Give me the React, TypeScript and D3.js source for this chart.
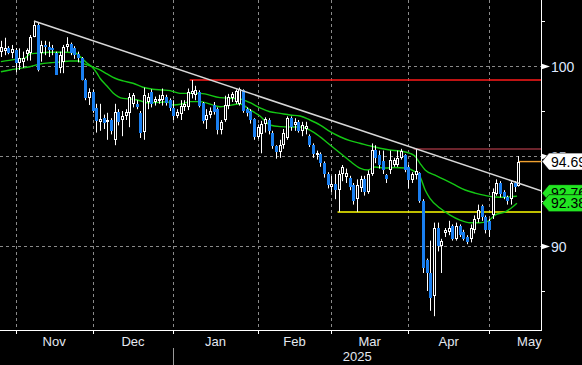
import React from "react";
import * as d3 from "d3";

const W = 582;
const H = 365;
const PLOT_RIGHT = 541;
const PLOT_BOTTOM = 330;

const START_DATE = new Date(2024, 9, 28);

const opens = [
  100.76, 100.85, 101.0, 100.7, 100.89, 100.15, 100.25, 100.65, 100.7, 101.63,
  102.28, 100.7, 101.17, 101.07, 100.98, 100.7, 99.87, 100.24, 101.07, 101.22,
  100.98, 100.65, 100.43, 99.22, 98.2, 98.57, 97.65, 96.9, 97.1, 96.9,
  97.0, 95.9, 97.46, 97.0, 97.2, 97.4, 97.9, 97.9, 97.4, 96.35,
  98.0, 98.55, 98.0, 98.05, 98.1, 98.3, 98.1, 97.65, 97.2, 97.35,
  97.7, 97.7, 98.45, 98.4, 98.55, 97.95, 97.0, 97.3, 97.85, 97.6,
  96.45, 97.0, 97.8, 98.2, 98.0, 97.9, 98.65, 97.6, 97.5, 97.05,
  96.05, 96.2, 96.8, 97.0, 96.3, 95.55, 95.2, 95.6, 96.0, 97.1,
  96.75, 96.9, 96.4, 96.5, 96.1, 95.6, 95.05, 95.1, 94.6, 94.0,
  93.3, 93.45, 93.1, 94.0, 93.85, 93.8, 93.4, 92.6, 93.2, 93.7,
  93.0, 94.0, 95.35, 95.05, 94.7, 93.95, 94.2, 94.5, 94.5, 94.9,
  95.05, 94.4, 93.65, 93.95, 94.05, 92.5, 89.2, 88.5, 87.2, 91.0,
  90.0, 90.7, 90.8, 91.1, 90.4, 91.1, 90.8, 90.5, 90.4, 90.9,
  91.5, 92.2, 91.6, 91.4, 91.7, 92.9, 93.5, 93.0, 92.7, 92.6,
  93.5, 93.35,
];
const highs = [
  101.4, 101.57, 101.1, 101.17, 101.0, 100.98, 100.8, 100.98, 101.72, 102.5,
  102.4, 101.4, 101.4, 101.35, 101.17, 100.8, 100.8, 101.17, 101.6, 101.3,
  101.1, 100.8, 100.5, 99.3, 98.76, 98.7, 97.9, 97.9, 97.3, 97.4,
  97.1, 97.9, 97.6, 97.5, 97.6, 98.5, 98.5, 98.1, 97.5, 98.8,
  98.5, 98.7, 98.3, 98.4, 98.75, 98.4, 98.2, 98.1, 97.6, 98.1,
  98.1, 98.75, 99.22, 98.9, 98.65, 98.0, 97.6, 97.7, 98.0, 97.7,
  97.0, 98.35, 98.45, 98.55, 98.7, 98.8, 98.7, 97.7, 97.6, 97.1,
  96.75, 96.95, 97.15, 97.1, 96.4, 95.6, 95.9, 96.5, 97.2, 97.2,
  97.1, 97.0, 96.9, 96.9, 96.2, 95.7, 95.3, 95.2, 94.7, 94.1,
  93.9, 94.0, 94.2, 94.5, 94.3, 93.9, 93.5, 93.7, 93.9, 93.9,
  94.2, 95.7, 95.6, 95.3, 95.3, 94.0, 95.3, 94.9, 95.3, 95.4,
  95.1, 94.5, 94.1, 95.39, 94.1, 92.6, 89.3, 90.3, 91.3, 91.3,
  90.4, 91.0, 91.4, 91.2, 91.3, 91.2, 90.9, 90.6, 91.2, 91.7,
  92.3, 92.3, 91.7, 91.5, 93.2, 93.7, 93.6, 93.1, 92.8, 93.6,
  93.6, 95.0,
];
const lows = [
  100.5, 100.6, 100.65, 100.43, 99.65, 99.78, 99.9, 100.3, 100.3, 101.6,
  99.7, 100.24, 100.6, 100.5, 100.6, 99.5, 99.6, 99.6, 100.8, 100.6,
  100.4, 100.2, 99.2, 98.1, 97.83, 97.4, 96.3, 96.4, 96.5, 95.9,
  96.2, 95.6, 96.7, 96.1, 97.0, 96.6, 97.7, 97.6, 96.0, 95.9,
  97.6, 97.7, 97.8, 97.9, 97.8, 97.8, 97.5, 97.0, 97.1, 97.0,
  97.5, 97.55, 98.2, 98.1, 97.7, 96.8, 96.5, 97.1, 97.3, 96.2,
  96.2, 96.9, 97.6, 98.0, 97.9, 97.8, 97.4, 97.2, 96.8, 95.9,
  95.95, 95.15, 96.3, 96.2, 95.4, 94.85, 94.9, 95.4, 95.9, 96.4,
  96.4, 96.3, 96.1, 96.2, 95.5, 94.9, 94.8, 94.4, 93.8, 93.2,
  93.0, 92.6, 91.9, 93.6, 93.5, 93.1, 92.3, 91.9, 93.0, 92.8,
  92.9, 93.9, 94.6, 94.3, 94.0, 93.5, 94.0, 94.4, 94.4, 94.8,
  94.1, 93.2, 93.5, 93.7, 92.4, 88.5, 87.5, 86.4, 86.1, 89.7,
  88.5, 90.5, 90.6, 90.3, 90.3, 90.5, 90.3, 90.1, 90.2, 90.7,
  91.3, 91.4, 90.7, 90.5, 91.5, 92.8, 92.7, 92.6, 92.3, 92.3,
  93.0, 93.3,
];
const closes = [
  101.07, 100.98, 100.7, 100.93, 100.15, 100.43, 100.43, 100.89, 101.63, 102.28,
  99.78, 101.17, 101.07, 100.89, 100.89, 99.5, 100.61, 101.07, 101.22, 100.7,
  100.6, 100.43, 99.22, 98.2, 98.54, 97.5, 96.95, 97.05, 96.85, 97.0,
  96.4, 97.46, 96.9, 97.2, 97.46, 98.3, 98.4, 97.75, 96.3, 98.4,
  98.3, 97.9, 98.15, 98.15, 98.4, 97.95, 97.65, 97.2, 97.45, 97.8,
  97.9, 98.55, 98.6, 98.65, 97.8, 96.95, 97.3, 97.5, 97.45, 96.45,
  96.9, 97.85, 98.3, 98.45, 98.6, 98.7, 97.5, 97.4, 97.0, 96.05,
  96.6, 96.8, 97.05, 96.4, 95.55, 95.2, 95.6, 96.3, 97.1, 96.6,
  96.9, 96.4, 96.75, 96.65, 95.6, 95.1, 95.15, 94.6, 94.0, 93.4,
  93.45, 93.1, 94.0, 94.4, 94.05, 93.3, 92.5, 93.4, 93.7, 93.0,
  94.0, 95.35, 94.9, 94.5, 94.25, 93.7, 94.8, 94.8, 94.9, 95.3,
  94.2, 93.65, 94.0, 94.15, 92.5, 88.8, 88.5, 87.1, 91.0, 90.0,
  90.3, 90.9, 91.0, 90.4, 91.1, 90.6, 90.4, 90.25, 91.0, 91.5,
  92.0, 91.6, 90.9, 90.9, 93.0, 93.5, 92.9, 92.75, 92.5, 93.5,
  93.3, 94.69,
];

// moving averages: [candle index, value]
const maFast: [number, number][] = [
  [0, 100.24], [3.8, 100.37], [6.6, 100.44], [7.9, 100.67], [9.8, 100.71], [13.4, 100.76],
  [18, 100.76], [20.2, 100.74], [21.6, 100.52], [23.5, 100.15], [24.8, 99.96], [26.2, 99.59],
  [27, 99.32], [28.9, 98.89], [30.5, 98.52], [33.3, 98.2], [36, 98.15], [37.9, 98.07],
  [39.8, 97.96], [43.4, 97.98], [45.3, 98.02], [46.9, 97.83], [49.3, 97.89], [51.5, 98.02],
  [54.3, 98.02], [59.7, 97.74], [65.2, 97.89], [67.9, 97.56], [70.6, 97.22], [73.3, 96.72],
  [76.1, 96.63], [78.8, 96.61], [81.5, 96.61], [84.2, 96.44], [87, 96.06], [89.7, 95.61],
  [92.4, 95.17], [95.1, 94.72], [97.8, 94.33], [100, 94.22], [101.9, 94.39], [104.7, 94.33],
  [107.4, 94.36], [110.1, 94.33], [112.8, 94.13], [114.2, 93.85], [115.6, 93.11], [116.9, 92.65],
  [119.6, 92.11], [122.4, 91.72], [125.1, 91.44], [127.8, 91.29], [130.5, 91.29], [132.5, 91.35],
  [134.6, 91.72], [137.4, 91.9], [139.5, 92.18], [140.6, 92.38],
];
const maSlow: [number, number][] = [
  [0, 99.68], [2.5, 99.78], [5.2, 99.87], [7.9, 99.96], [10.7, 100.11], [13.4, 100.18],
  [16.1, 100.22], [18.8, 100.28], [21, 100.28], [22.4, 100.15], [24.8, 99.96], [27, 99.78],
  [28.9, 99.56], [31.1, 99.32], [33.3, 99.17], [36, 99.04], [38.7, 98.82], [41.4, 98.71],
  [44.2, 98.67], [46.1, 98.63], [48.8, 98.48], [51.5, 98.48], [54.3, 98.48], [59.7, 98.24],
  [65.2, 98.17], [67.9, 97.96], [70.6, 97.67], [73.3, 97.46], [76.1, 97.37], [78.8, 97.28],
  [81.5, 97.22], [84.2, 97.0], [87, 96.72], [89.7, 96.35], [92.4, 96.07], [95.1, 95.85],
  [97.8, 95.71], [100.6, 95.56], [103.3, 95.43], [106, 95.33], [108.7, 95.28], [111.5, 95.15],
  [112.8, 95.0], [114.2, 94.59], [115.6, 94.22], [118.3, 93.94], [121, 93.67], [123.7, 93.39],
  [126.5, 93.11], [129.2, 92.94], [131.9, 92.81], [134.6, 92.72], [137.4, 92.71], [139.5, 92.75],
  [140.6, 92.76],
];

// annotation lines
const trendLine: [number, number][] = [[9, 102.5], [147.2, 93.07]];
const redLevel = { from: 52, value: 99.22 };
const pinkLevel = { from: 113, value: 95.39 };
const yellowLevel = { from: 92, value: 91.89 };

const yTicksMajor = [90, 95, 100];
const yTicksMinor = [87.5, 92.5, 97.5, 102.5];
const monthLabels = ["Nov", "Dec", "Jan", "Feb", "Mar", "Apr", "May"];
const yearLabel = "2025";

const FONT = "'Liberation Sans', Arial, sans-serif";
const BLUE = "#1a7ff0";
const GREEN = "#14c814";

export default function App() {
  const n = closes.length;
  const x = d3.scaleLinear().domain([0, n - 1]).range([0.9, 0.9 + 3.67 * (n - 1)]);
  const y = d3.scaleLinear().domain([90, 100]).range([246, 66]);

  // weekday calendar from start date
  const allDays = d3.timeDay.range(START_DATE, new Date(2025, 6, 1)).filter(
    (d) => d.getDay() !== 0 && d.getDay() !== 6
  );
  const monthStart: { idx: number; date: Date }[] = [];
  allDays.forEach((d, i) => {
    if (i > 0 && d.getMonth() !== allDays[i - 1].getMonth()) monthStart.push({ idx: i, date: d });
  });
  const ticks = monthStart.slice(0, monthLabels.length);
  const janIdx = monthStart.find((m) => m.date.getFullYear() === 2025)!.idx;

  const line = d3
    .line<[number, number]>()
    .x((d) => x(d[0]))
    .y((d) => y(d[1]))
    .curve(d3.curveMonotoneX);

  const tag = (cy: number, text: string, fill: string, key: string) => (
    <g key={key}>
      <polygon
        points={`${PLOT_RIGHT + 1},${cy} ${PLOT_RIGHT + 8},${cy - 8.5} ${W + 2},${cy - 8.5} ${W + 2},${cy + 8.5} ${PLOT_RIGHT + 8},${cy + 8.5}`}
        fill={fill}
        stroke="#000"
        strokeWidth={0.6}
      />
      <text x={PLOT_RIGHT + 10} y={cy + 5} fontSize={14} fill="#000" fontFamily={FONT}>
        {text}
      </text>
    </g>
  );

  const lastClose = closes[n - 1];
  const fastLast = maFast[maFast.length - 1][1];
  const slowLast = maSlow[maSlow.length - 1][1];
  const fastCy = y(fastLast);
  const slowCy = Math.min(y(slowLast), fastCy - 10);

  return (
    <svg
      width={W}
      height={H}
      style={{ position: "absolute", left: 0, top: 0, background: "#000", display: "block" }}
    >
      <rect x={0} y={0} width={W} height={H} fill="#000" />
      <defs>
        <clipPath id="plot">
          <rect x={0} y={0} width={PLOT_RIGHT} height={PLOT_BOTTOM} />
        </clipPath>
      </defs>
      <g clipPath="url(#plot)">
        {/* grid */}
        {yTicksMajor.map((t) => (
          <line
            key={"hg" + t}
            x1={0}
            x2={PLOT_RIGHT}
            y1={Math.round(y(t)) + 0.5}
            y2={Math.round(y(t)) + 0.5}
            stroke="#8a8a8a"
            strokeDasharray="3,3"
          />
        ))}
        {ticks.map((m) => (
          <line
            key={"vg" + m.idx}
            x1={Math.round(x(m.idx)) + 0.5}
            x2={Math.round(x(m.idx)) + 0.5}
            y1={0}
            y2={PLOT_BOTTOM}
            stroke="#8a8a8a"
            strokeDasharray="3,3"
          />
        ))}
        {/* level lines */}
        <line x1={x(redLevel.from) - 2} x2={PLOT_RIGHT} y1={y(redLevel.value)} y2={y(redLevel.value)} stroke="#ff1a1a" strokeWidth={1.6} />
        <line x1={x(pinkLevel.from) - 2} x2={PLOT_RIGHT} y1={y(pinkLevel.value)} y2={y(pinkLevel.value)} stroke="#d84858" strokeWidth={1.2} />
        <line x1={x(yellowLevel.from) - 1} x2={PLOT_RIGHT} y1={y(yellowLevel.value)} y2={y(yellowLevel.value)} stroke="#ffff00" strokeWidth={1.6} />
        <line x1={x(n - 1)} x2={PLOT_RIGHT} y1={y(lastClose)} y2={y(lastClose)} stroke="#f0a030" strokeWidth={1.4} />
        {/* moving averages */}
        <path d={line(maSlow) || ""} fill="none" stroke={GREEN} strokeWidth={1.4} />
        <path d={line(maFast) || ""} fill="none" stroke={GREEN} strokeWidth={1.4} />
        {/* candles */}
        {closes.map((c, i) => {
          const o = opens[i];
          const cx = Math.round(x(i));
          const up = c >= o;
          const top = Math.round(y(Math.max(o, c)));
          const bot = Math.round(y(Math.min(o, c)));
          const h = Math.max(1, bot - top);
          return (
            <g key={i}>
              <line x1={cx + 0.5} x2={cx + 0.5} y1={y(highs[i])} y2={y(lows[i])} stroke="#fff" strokeWidth={1} />
              {up ? (
                <rect x={cx - 0.5} y={top + 0.5} width={2} height={Math.max(1, h - 1)} fill="#000" stroke="#fff" strokeWidth={1} />
              ) : (
                <rect x={cx - 1} y={top} width={3} height={h} fill={BLUE} />
              )}
            </g>
          );
        })}
        {/* trend line */}
        <line
          x1={x(trendLine[0][0])}
          y1={y(trendLine[0][1])}
          x2={x(trendLine[1][0])}
          y2={y(trendLine[1][1])}
          stroke="#d8d8d8"
          strokeWidth={1.5}
        />
      </g>

      {/* right axis */}
      <line x1={PLOT_RIGHT + 0.5} x2={PLOT_RIGHT + 0.5} y1={0} y2={PLOT_BOTTOM + 1} stroke="#fff" strokeWidth={1} />
      {yTicksMinor.map((t) => (
        <line key={"mt" + t} x1={PLOT_RIGHT} x2={PLOT_RIGHT + 4} y1={Math.round(y(t)) + 0.5} y2={Math.round(y(t)) + 0.5} stroke="#fff" />
      ))}
      {yTicksMajor.map((t) => {
        const ty = Math.round(y(t)) + 0.5;
        return (
          <g key={"yt" + t}>
            <polygon points={`${PLOT_RIGHT},${ty - 3} ${PLOT_RIGHT + 9},${ty} ${PLOT_RIGHT},${ty + 3}`} fill="#fff" />
            <text x={PLOT_RIGHT + 10} y={ty + 5} fontSize={14} fill="#dfe8ff" fontFamily={FONT}>
              {t}
            </text>
          </g>
        );
      })}

      {/* bottom axis */}
      <line x1={0} x2={PLOT_RIGHT + 1} y1={PLOT_BOTTOM + 0.5} y2={PLOT_BOTTOM + 0.5} stroke="#fff" strokeWidth={1} />
      {ticks.map((m, k) => {
        const tx = Math.round(x(m.idx)) + 0.5;
        const next = monthStart[k + 1];
        const mid = (x(m.idx) + x(next.idx)) / 2;
        return (
          <g key={"xt" + m.idx}>
            <line x1={tx} x2={tx} y1={PLOT_BOTTOM} y2={PLOT_BOTTOM + 4} stroke="#fff" />
            <text x={mid} y={PLOT_BOTTOM + 16} fontSize={13} fill="#e4e8f0" textAnchor="middle" fontFamily={FONT}>
              {monthLabels[k]}
            </text>
          </g>
        );
      })}
      <line x1={Math.round(x(janIdx)) + 0.5} x2={Math.round(x(janIdx)) + 0.5} y1={PLOT_BOTTOM + 18} y2={H} stroke="#9a9a9a" />
      <text x={(x(janIdx) + PLOT_RIGHT) / 2} y={PLOT_BOTTOM + 31} fontSize={13} fill="#e4e8f0" textAnchor="middle" fontFamily={FONT}>
        {yearLabel}
      </text>

      {/* price tags */}
      {tag(y(lastClose), lastClose.toFixed(2), "#ffffff", "last")}
      {tag(slowCy, slowLast.toFixed(2), "#22e622", "slow")}
      {tag(fastCy, fastLast.toFixed(2), "#22e622", "fast")}
    </svg>
  );
}
